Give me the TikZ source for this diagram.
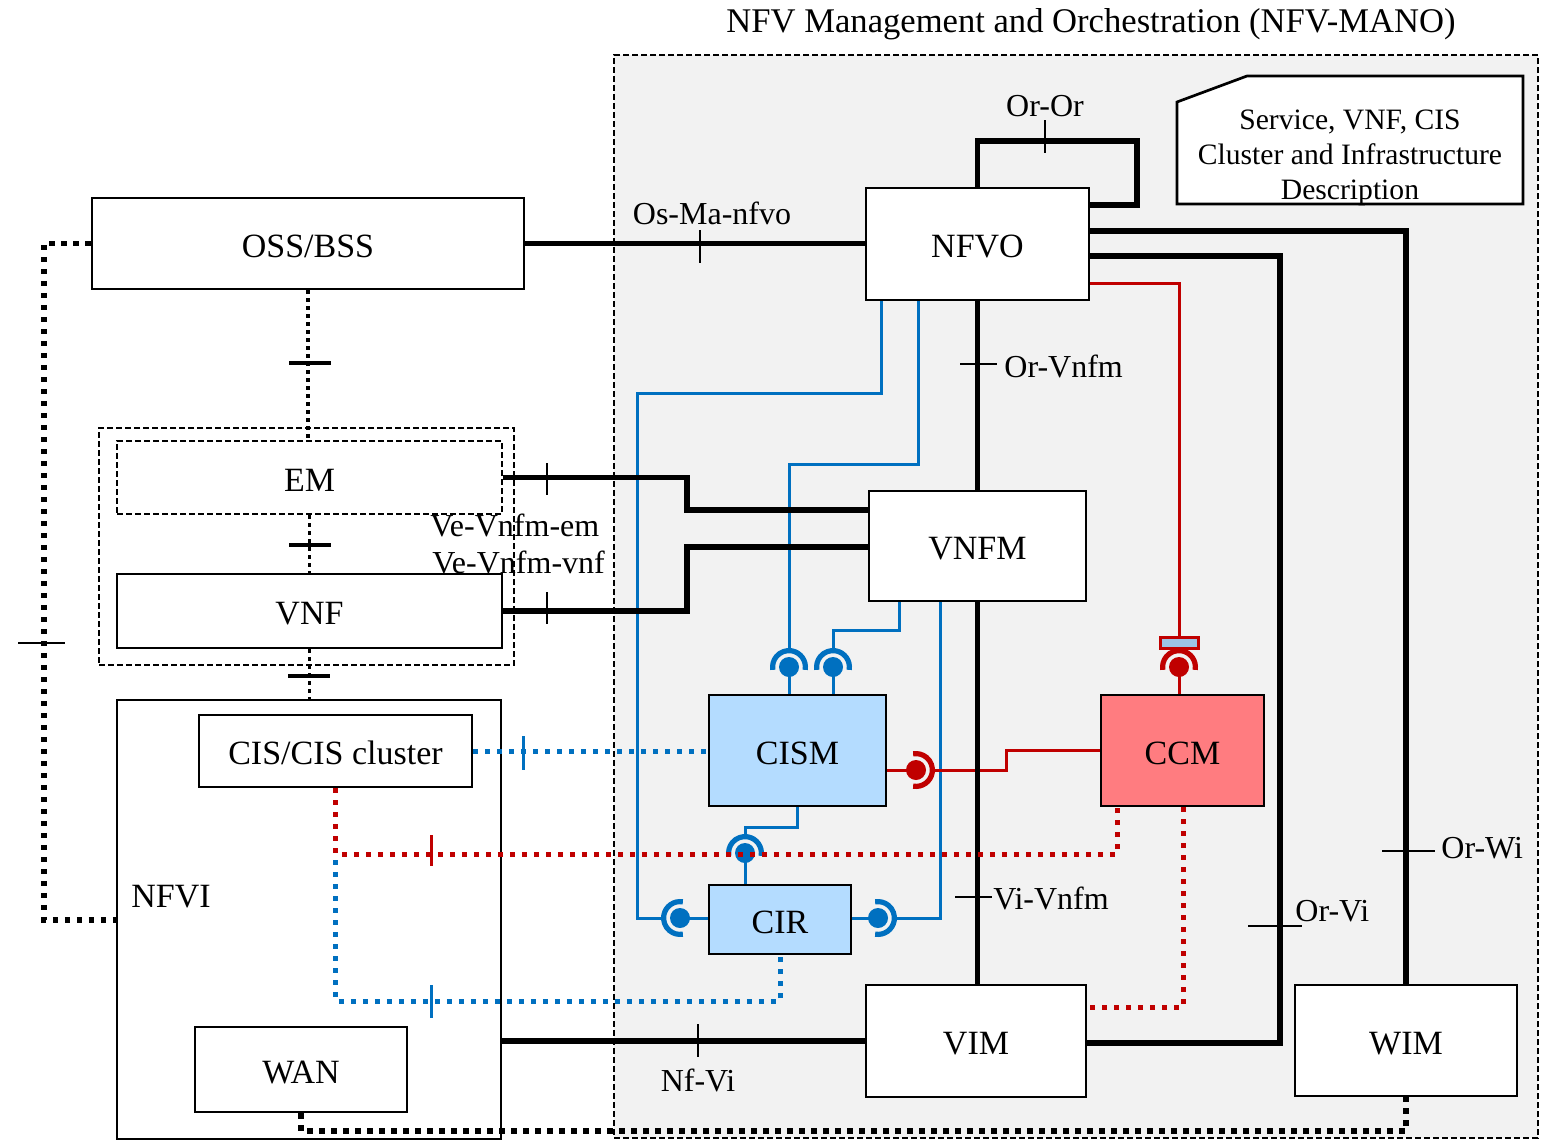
\documentclass[tikz,border=0pt]{standalone}
\usepackage{fontspec}
\setmainfont{Liberation Serif}
\usetikzlibrary{calc}
\definecolor{manobg}{HTML}{F2F2F2}
\definecolor{bl}{HTML}{0070C0}
\definecolor{rd}{HTML}{C00000}
\definecolor{cismfill}{HTML}{B4DCFF}
\definecolor{ccmfill}{HTML}{FF7C80}
\definecolor{rectfill}{HTML}{9DC3E6}
\newcommand{\balsock}[3]{\fill[#1] (#2) circle[radius=5pt]; \draw[#1,line width=2.6pt] (#2) ++(#3-100:8.2pt) arc[start angle=#3-100, end angle=#3+100, radius=8.2pt];}
\tikzset{
 box/.style={draw, line width=1.35pt, fill=white, inner sep=0pt, text height=13.75pt, text depth=0pt, font=\fontsize{17}{20}\selectfont},
 manobox/.style={draw, line width=1.2pt, dash pattern=on 3pt off 1.5pt, fill=manobg, inner sep=0pt},
 grpbox/.style={draw, line width=1.1pt, dash pattern=on 3pt off 1.5pt, inner sep=0pt},
 lbl/.style={inner sep=0pt, font=\fontsize{16}{19}\selectfont},
 ttl/.style={inner sep=0pt, font=\fontsize{17.3}{20}\selectfont},
 desctxt/.style={inner sep=0pt, align=center, font=\fontsize{14.8}{17.5}\selectfont},
 thk/.style={line width=2.8pt, line join=miter},
 blln/.style={bl, line width=1.5pt},
 rdln/.style={rd, line width=1.5pt},
 bdot/.style={line width=2.6pt, dash pattern=on 2.6pt off 3.4pt},
 bdotthin/.style={line width=1.8pt, dash pattern=on 2pt off 2pt},
 bludot/.style={draw=bl, line width=2.5pt, dash pattern=on 2.5pt off 3.5pt},
 reddot/.style={draw=rd, line width=2.5pt, dash pattern=on 2.5pt off 3.5pt},
 tk/.style={line width=1pt},
 tkb/.style={line width=2pt},
}
\begin{document}
\begin{tikzpicture}[x=0.5pt,y=-0.5pt]
\useasboundingbox (0,0) rectangle (1544,1141);
% MANO area
\node[manobox, minimum width=462pt, minimum height=541.5pt] (mano) at (1076,596.5) {};
\node[ttl] (title) at (1091,24) {NFV Management and Orchestration (NFV-MANO)};
\draw[line width=1.35pt, fill=white] (1177,102) -- (1247,76) -- (1523,76) -- (1523,204) -- (1177,204) -- cycle;
\node[desctxt] (desc) at (1350,158) {Service, VNF, CIS\\Cluster and Infrastructure\\Description};

% left side nodes
\node[box, minimum width=216pt, minimum height=45.5pt] (oss) at (308,243.5) {OSS/BSS};
\node[grpbox, minimum width=207.5pt, minimum height=118.5pt] (grp) at (306.5,546.5) {};
\node[box, line width=1.1pt, dash pattern=on 3pt off 1.5pt, minimum width=192.5pt, minimum height=36.5pt] (em) at (309.5,477.5) {EM};
\node[box, minimum width=192.5pt, minimum height=37pt] (vnf) at (309.5,611) {VNF};
\node[box, minimum width=192pt, minimum height=219.5pt] (nfvi) at (309,919.5) {};
\node[box, draw=none, fill=none, anchor=west] (nfvilbl) at (130,894) {NFVI};
\node[box, minimum width=136.5pt, minimum height=36pt] (cis) at (335.5,751) {CIS/CIS cluster};
\node[box, minimum width=106pt, minimum height=42.5pt] (wan) at (301,1069.5) {WAN};

% MANO nodes
\node[box, minimum width=111.5pt, minimum height=56pt] (nfvo) at (977.5,244) {NFVO};
\node[box, minimum width=108.5pt, minimum height=55pt] (vnfm) at (977.5,546) {VNFM};
\node[box, fill=cismfill, minimum width=88.5pt, minimum height=55.5pt] (cism) at (797.5,750.5) {CISM};
\node[box, fill=ccmfill, minimum width=81.5pt, minimum height=55.5pt] (ccm) at (1182.5,750.5) {CCM};
\node[box, fill=cismfill, minimum width=71pt, minimum height=34.5pt] (cir) at (780,919.5) {CIR};
\node[box, minimum width=110pt, minimum height=56pt] (vim) at (976,1041) {VIM};
\node[box, minimum width=111pt, minimum height=55.5pt] (wim) at (1406,1040.5) {WIM};
\node[draw=rd, line width=1.5pt, fill=rectfill, inner sep=0pt, minimum width=19pt, minimum height=5.5pt] (ccmrect) at (1179,642.5) {};

% ball/socket centres and socket apexes
\coordinate (bA) at (789,667); \coordinate (sA) at (789,651);
\coordinate (bB) at (833,667); \coordinate (sB) at (833,651);
\coordinate (bC) at (745,853); \coordinate (sC) at (745,837);
\coordinate (bD) at (680,918); \coordinate (sD) at (664,918);
\coordinate (bE) at (878,918); \coordinate (sE) at (894,918);
\coordinate (bF) at (916,770); \coordinate (sF) at (932,770);
\coordinate (bG) at (1179,667); \coordinate (sG) at (1179,651);

% blue solid connectors
\draw[blln] (nfvo.south -| 881,0) -- (881,393) -- (637,393) -- (637,918) -- (sD);
\draw[blln] (nfvo.south -| 918,0) -- (918,464) -- (789,464) -- (sA);
\draw[blln] (vnfm.south -| 899,0) -- (899,630) -- (833,630) -- (sB);
\draw[blln] (vnfm.south -| 940,0) -- (940,918) -- (sE);
\draw[blln] (cism.south -| 797,0) -- (797,827) -- (745,827) -- (sC);
\draw[blln] (bA) -- (cism.north -| bA);
\draw[blln] (bB) -- (cism.north -| bB);
\draw[blln] (bC) -- (cir.north -| bC);
\draw[blln] (bD) -- (cir.west |- bD);
\draw[blln] (bE) -- (cir.east |- bE);

% red solid connectors
\draw[rdln] (bF) -- (cism.east |- bF);
\draw[rdln] (sF) -- (1006,770) -- (1006,750) -- (ccm.west |- 0,750);
\draw[rdln] (bG) -- (ccm.north -| bG);
\draw[rdln] (sG) -- (ccmrect.south);
\draw[rdln] (nfvo.east |- 0,283) -- (1179,283) -- (ccmrect.north);

% thick black reference points
\draw[thk] (oss.east) -- (oss.east -| nfvo.west);
\draw[thk] (nfvo.north) -- (977.5,141) -- (1137,141) -- (1137,205) -- (nfvo.east |- 0,205);
\draw[thk] (nfvo.east |- 0,231) -- (1406,231) -- (wim.north);
\draw[thk] (nfvo.east |- 0,256) -- (1280,256) -- (1280,1043) -- (vim.east |- 0,1043);
\draw[thk] (nfvo.south) -- (vnfm.north);
\draw[thk] (vnfm.south) -- (vnfm.south |- vim.north);
\draw[thk] (em.east) -- (687,477.5) -- (687,510) -- (vnfm.west |- 0,510);
\draw[thk] (vnf.east) -- (687,611) -- (687,547) -- (vnfm.west |- 0,547);
\draw[thk] (nfvi.east |- vim.west) -- (vim.west);

% ball and socket symbols
\balsock{bl}{bA}{90}
\balsock{bl}{bB}{90}
\balsock{bl}{bC}{90}
\balsock{bl}{bD}{180}
\balsock{bl}{bE}{0}
\balsock{rd}{bF}{0}
\balsock{rd}{bG}{90}

% black dotted
\draw[bdotthin] (oss.south) -- (oss.south |- em.north);
\draw[bdotthin] (em.south) -- (vnf.north);
\draw[bdotthin] (vnf.south) -- (vnf.south |- nfvi.north);
\draw[bdot] (oss.west) -- (44,243.5) -- (44,920) -- (nfvi.west |- 0,920);
\draw[bdot] (wan.south) -- (301,1131) -- (1406,1131) -- (wim.south);

% blue and red dotted
\draw[bludot] (cis.east) -- (cism.west |- cis.east);
\draw[bludot] (cis.south) -- (335.5,1001) -- (780,1001) -- (cir.south);
\draw[reddot] (cis.south) -- (335.5,854) -- (1117,854) -- (ccm.south -| 1117,0);
\draw[reddot] (ccm.south -| 1183,0) -- (1183,1007) -- (vim.east |- 0,1007);

% ticks
\draw[tk] (700,230) -- (700,263);
\draw[tk] (1045,120) -- (1045,153);
\draw[tk] (960,364) -- (997,364);
\draw[tk] (955,897) -- (992,897);
\draw[tk] (1248,926) -- (1302,926);
\draw[tk] (1382,851) -- (1435,851);
\draw[tk] (547,463) -- (547,495);
\draw[tk] (547,592) -- (547,624);
\draw[tk] (698,1024) -- (698,1057);
\draw[tkb] (289,363) -- (331,363);
\draw[tkb] (289,545) -- (331,545);
\draw[tkb] (288,676) -- (330,676);
\draw[tk] (18,643) -- (65,643);
\draw[bl, line width=1.5pt] (523,736) -- (523,770);
\draw[bl, line width=1.5pt] (431,985) -- (431,1018);
\draw[rd, line width=1.5pt] (431,835) -- (431,866);

% labels
\node[lbl] (lOsMa) at (712,213) {Os-Ma-nfvo};
\node[lbl] (lOrOr) at (1045,106) {Or-Or};
\node[lbl, anchor=west] (lOrVnfm) at (1004,366) {Or-Vnfm};
\node[lbl, anchor=west] (lViVnfm) at (993,898) {Vi-Vnfm};
\node[lbl, anchor=west] (lOrVi) at (1295,911) {Or-Vi};
\node[lbl, anchor=west] (lOrWi) at (1441,848) {Or-Wi};
\node[lbl, anchor=west] (lVeEm) at (430,525) {Ve-Vnfm-em};
\node[lbl, anchor=west] (lVeVnf) at (432,562) {Ve-Vnfm-vnf};
\node[lbl] (lNfVi) at (698,1080) {Nf-Vi};
\end{tikzpicture}
\end{document}
